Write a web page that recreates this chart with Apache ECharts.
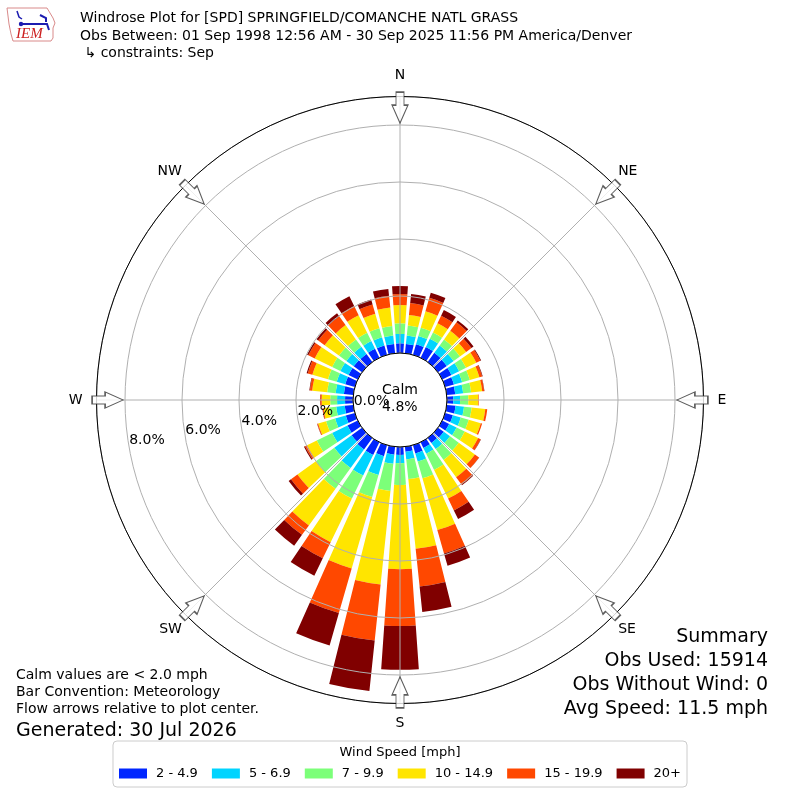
<!DOCTYPE html>
<html>
<head>
<meta charset="utf-8">
<script src="https://cdn.jsdelivr.net/npm/echarts@6/dist/echarts.min.js"></script>
<style>
html,body{margin:0;padding:0;background:#ffffff;}
#chart{width:800px;height:800px;}
</style>
</head>
<body>
<div id="chart"></div>
<script>
// ---- data (percent of observations) ----
const directions = [0,10,20,30,40,50,60,70,80,90,100,110,120,130,140,150,160,170,180,190,200,210,220,230,240,250,260,270,280,290,300,310,320,330,340,350];
const speedBins = ['2 - 4.9','5 - 6.9','7 - 9.9','10 - 14.9','15 - 19.9','20+'];
const binColors = ['#0026ff','#00d4ff','#7cff79','#ffe500','#ff4800','#800000'];

const spd2to5   = [0.34,0.33,0.39,0.42,0.40,0.38,0.36,0.32,0.30,0.22,0.31,0.28,0.27,0.25,0.22,0.22,0.30,0.18,0.28,0.28,0.40,0.50,0.50,0.45,0.40,0.33,0.30,0.28,0.33,0.35,0.36,0.36,0.35,0.35,0.34,0.33];
const spd5to7   = [0.33,0.30,0.30,0.32,0.32,0.30,0.30,0.30,0.28,0.24,0.30,0.29,0.29,0.27,0.26,0.23,0.30,0.27,0.29,0.32,0.69,0.80,0.80,0.75,0.60,0.39,0.30,0.28,0.29,0.31,0.32,0.32,0.31,0.30,0.30,0.30];
const spd7to10  = [0.37,0.35,0.30,0.25,0.26,0.27,0.27,0.28,0.28,0.29,0.27,0.29,0.32,0.38,0.47,0.63,0.61,0.69,0.76,0.96,0.80,0.90,0.90,0.80,0.60,0.33,0.25,0.24,0.30,0.32,0.32,0.32,0.32,0.33,0.33,0.33];
const spd10to15 = [0.64,0.37,0.60,0.36,0.37,0.27,0.40,0.35,0.39,0.35,0.48,0.44,0.52,0.70,0.75,1.12,1.89,2.46,2.96,3.30,2.61,1.70,1.59,0.80,0.38,0.29,0.20,0.30,0.53,0.57,0.68,0.62,0.62,0.68,0.53,0.65];
const spd15to20 = [0.39,0.42,0.49,0.29,0.37,0.23,0.16,0.10,0.07,0.02,0.07,0.05,0.10,0.18,0.32,0.46,0.85,1.33,1.99,1.98,1.63,0.63,0.41,0.28,0.08,0.03,0.03,0.05,0.08,0.17,0.25,0.28,0.38,0.36,0.34,0.42];
const spd20plus = [0.28,0.32,0.19,0.22,0.08,0.09,0.03,0.02,0.01,0.00,0.00,0.00,0.01,0.01,0.03,0.34,0.45,0.90,1.54,1.78,1.18,0.68,0.47,0.10,0.04,0.01,0.01,0.01,0.02,0.04,0.05,0.07,0.13,0.38,0.18,0.24];

const ringTicks = [0,2,4,6,8];
const compassAngles = [0,45,90,135,180,225,270,315];
const compassNames  = ['N','NE','E','SE','S','SW','W','NW'];
const calmPercent = 4.8;

const titleLines = [
  'Windrose Plot for [SPD] SPRINGFIELD/COMANCHE NATL GRASS',
  'Obs Between: 01 Sep 1998 12:56 AM - 30 Sep 2025 11:56 PM America/Denver',
  ' \u21b3 constraints: Sep'
];
const noteLines = ['Calm values are < 2.0 mph','Bar Convention: Meteorology','Flow arrows relative to plot center.'];
const generatedText = 'Generated: 30 Jul 2026';
const summaryLines = ['Summary','Obs Used: 15914','Obs Without Wind: 0','Avg Speed: 11.5 mph'];
const legendTitle = 'Wind Speed [mph]';

// ---- chart ----
const FONT = 'DejaVu Sans';
const seriesValues = [spd2to5, spd5to7, spd7to10, spd10to15, spd15to20, spd20plus];
const RMAX = 9;
const arrowRadius = 8.61;

const chart = echarts.init(document.getElementById('chart'), null, {renderer:'canvas'});

const nameByAngle = {};
compassAngles.forEach((a,i)=>{ nameByAngle[a] = compassNames[i]; });
const labelStyleKey = {N:'n', E:'e', S:'s', W:'w', NE:'up', NW:'up', SE:'dn', SW:'dn'};

const barSeries = speedBins.map((name, i) => ({
  name: name,
  type: 'bar',
  coordinateSystem: 'polar',
  polarIndex: 0,
  stack: 'wind',
  barCategoryGap: '20%',
  z: 1,
  itemStyle: {color: binColors[i]},
  emphasis: {disabled: true},
  data: seriesValues[i]
}));

const lbl = (pad) => ({padding: pad, fontSize: 14, fontFamily: FONT, color: '#000'});

const summaryGraphics = summaryLines.map((t, i) => ({
  type: 'text', right: 32, top: 628 + i * 23.7,
  style: {text: t, font: '19px "DejaVu Sans"', fill: '#000'}
}));

const option = {
  animation: false,
  backgroundColor: '#ffffff',
  polar: [
    {center: ['50%','50%'], radius: [47, 303.5]},
    {center: ['50%','50%'], radius: [47, 303.5]},
    {center: ['50%','50%'], radius: [47, 303.5]}
  ],
  angleAxis: [
    {polarIndex:0, type:'category', data: directions.map(String), startAngle: 95, clockwise: true,
     boundaryGap: true, axisLine:{show:false}, axisTick:{show:false}, axisLabel:{show:false}, splitLine:{show:false}},
    {polarIndex:1, type:'value', min:0, max:360, interval:45, startAngle:90, clockwise:true, z:5,
     axisLine:{show:true, lineStyle:{color:'#000000', width:1}},
     axisTick:{show:false},
     splitLine:{show:true, lineStyle:{color:'#b0b0b0', width:1}},
     axisLabel:{show:true, margin:5, color:'#000', fontSize:14, fontFamily:FONT,
       formatter: function(v){ const n = nameByAngle[v]; if(!n || v===360) return ''; return '{'+labelStyleKey[n]+'|'+n+'}'; },
       rich:{
         n: lbl([0,0,9,0]),
         e: lbl([0,0,0,9]),
         s: lbl([8,0,0,0]),
         w: lbl([0,9,0,0]),
         up: lbl([0,0,3,0]),
         dn: lbl([4,0,0,0])
       }}},
    {polarIndex:2, type:'value', min:0, max:360, startAngle:190, clockwise:false,
     axisLine:{show:false}, axisTick:{show:false}, axisLabel:{show:false}, splitLine:{show:false}}
  ],
  radiusAxis: [
    {polarIndex:0, type:'value', min:0, max:RMAX, show:false},
    {polarIndex:1, type:'value', min:0, max:RMAX, interval:2, z:4,
     axisLine:{show:false}, axisTick:{show:false}, axisLabel:{show:false},
     splitLine:{show:true, lineStyle:{color:'#b0b0b0', width:1}}},
    {polarIndex:2, type:'value', min:0, max:RMAX, interval:2, z:6,
     axisLine:{show:false}, axisTick:{show:false}, splitLine:{show:false},
     axisLabel:{show:true, margin:0, rotate:0, align:'left', verticalAlign:'bottom', color:'#000', fontSize:14, fontFamily:FONT,
       formatter: function(v){ return ringTicks.indexOf(v) >= 0 ? v.toFixed(1)+'%' : ''; }}}
  ],
  legend: {
    data: speedBins,
    left: 'center', top: 741,
    orient: 'horizontal',
    icon: 'rect', itemWidth: 28, itemHeight: 10, itemGap: 14,
    padding: [26, 6, 7, 6],
    borderColor: '#cccccc', borderWidth: 1, borderRadius: 4,
    selectedMode: false,
    textStyle: {fontSize: 13, fontFamily: FONT, color: '#000', padding: [0,0,0,4]}
  },
  series: barSeries.concat([{
    type: 'scatter',
    coordinateSystem: 'polar',
    polarIndex: 1,
    z: 7,
    silent: true,
    symbol: 'path://M8,0 L16,18 L12,18 L12,31 L4,31 L4,18 L0,18 Z',
    symbolSize: [16, 31],
    symbolKeepAspect: false,
    symbolRotate: function(val){ return 180 - val[1]; },
    itemStyle: {color:'#ffffff', borderColor:'#333333', borderWidth:1.2},
    data: compassAngles.map(a => [arrowRadius, a])
  }]),
  graphic: [
    {type:'text', left:80, top:10, style:{text:titleLines.join('\n'), font:'14px "DejaVu Sans"', lineHeight:17.5, fill:'#000'}},
    {type:'text', left:16, top:667, style:{text:noteLines.join('\n'), font:'14px "DejaVu Sans"', lineHeight:17, fill:'#000'}},
    {type:'text', left:16, top:720, style:{text:generatedText, font:'19px "DejaVu Sans"', lineHeight:22, fill:'#000'}},
    {type:'text', left:'center', top:746, style:{text:legendTitle, font:'13px "DejaVu Sans"', fill:'#000'}},
    {type:'text', left:'center', top:382, z:10, style:{text:'Calm\n'+calmPercent.toFixed(1)+'%', font:'14px "DejaVu Sans"', lineHeight:17, align:'center', fill:'#000'}},
    {type:'polyline', shape:{points:[[7,8],[47,8],[50,13],[53,18],[55,23],[53,28],[53,33],[53,38],[51,41],[13,41],[11,34],[9,24],[8,16],[7,8]]}, style:{stroke:'#d98a8a', fill:null, lineWidth:1}},
    {type:'polyline', shape:{points:[[20,24],[47,24],[49,30]]}, style:{stroke:'#1c1cb0', fill:null, lineWidth:2}},
    {type:'polyline', shape:{points:[[17,11],[19,17],[22,19]]}, style:{stroke:'#1c1cb0', fill:null, lineWidth:1.5}},
    {type:'polyline', shape:{points:[[40,15],[46,18],[46,22]]}, style:{stroke:'#1c1cb0', fill:null, lineWidth:2}},
    {type:'circle', shape:{cx:21, cy:24, r:2.2}, style:{fill:'#1c1cb0'}},
    {type:'text', left:16, top:27, style:{text:'IEM', font:'italic 15px "Liberation Serif"', fill:'#cc2020'}}
  ].concat(summaryGraphics)
};
chart.setOption(option);
</script>
</body>
</html>
